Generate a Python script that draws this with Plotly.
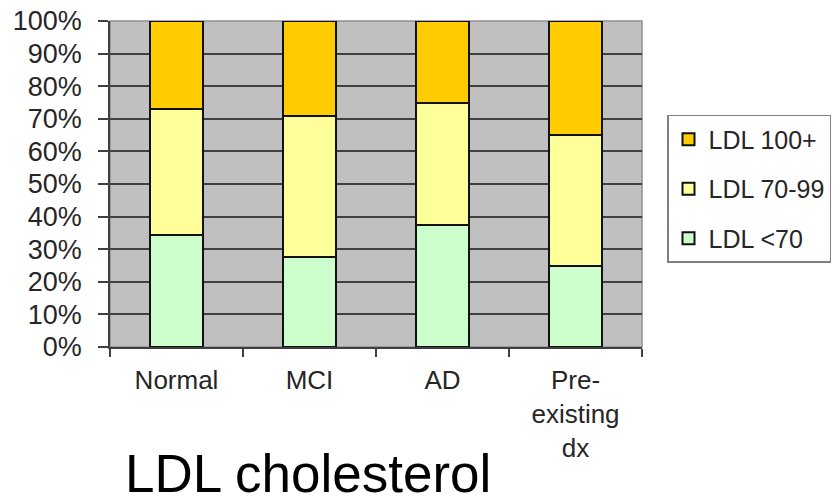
import plotly.graph_objects as go

# Share of patients in each LDL band, by diagnostic group (percent)
categories = ["Normal", "MCI", "AD", "Pre-<br>existing<br>dx"]
ldl_lt70 = [34.5, 27.5, 37.5, 25.0]
ldl_70_99 = [38.5, 43.5, 37.5, 40.0]
ldl_100p = [27.0, 29.0, 25.0, 35.0]
y_ticks = [0, 10, 20, 30, 40, 50, 60, 70, 80, 90, 100]
y_tick_labels = [f"{v}%" for v in y_ticks]

# (name, values, fill, legend rank)
series = [
    ("LDL <70", ldl_lt70, "#CCFFCC", 3),
    ("LDL 70-99", ldl_70_99, "#FFFF99", 2),
    ("LDL 100+", ldl_100p, "#FFCC00", 1),
]

xpos = list(range(len(categories)))

fig = go.Figure()
for name, vals, color, rank in series:
    fig.add_trace(go.Bar(
        x=xpos, y=vals, name=name, legendgroup=name, legendrank=rank,
        width=0.4,
        marker=dict(color=color, line=dict(color="#111111", width=2)),
    ))

font_family = "Liberation Sans, Arial, sans-serif"

fig.update_layout(
    barmode="stack",
    width=833, height=502,
    margin=dict(l=110, r=191, t=21, b=155, autoexpand=False),
    paper_bgcolor="white",
    plot_bgcolor="#C0C0C0",
    font=dict(family=font_family, color="#262626"),
    showlegend=True,
    legend=dict(
        x=1.047, y=0.712, xanchor="left", yanchor="top",
        xref="paper", yref="paper",
        font=dict(size=25, family=font_family, color="#262626"),
        bordercolor="#808080", borderwidth=1.5, bgcolor="white",
        traceorder="grouped", tracegroupgap=14,
    ),
    xaxis=dict(
        range=[-0.5, 3.5], automargin=False,
        tickmode="array", tickvals=xpos, ticktext=categories,
        ticks="", showgrid=False, zeroline=False,
        tickfont=dict(size=26, family=font_family, color="#262626"),
        showline=True, linecolor="#404040", linewidth=1.5,
        ticklabelstandoff=9,
        minor=dict(
            tickmode="array", tickvals=[-0.5, 0.5, 1.5, 2.5, 3.5],
            ticks="outside", ticklen=8, tickwidth=1.5, tickcolor="#404040",
            showgrid=False,
        ),
    ),
    yaxis=dict(
        range=[0, 100], automargin=False,
        tickmode="array", tickvals=y_ticks, ticktext=y_tick_labels,
        ticks="outside", ticklen=10, tickwidth=1.5, tickcolor="#404040",
        showgrid=True, gridcolor="#404040", gridwidth=1.5,
        zeroline=False,
        showline=True, linecolor="#404040", linewidth=1.5,
        tickfont=dict(size=27, family=font_family, color="#262626"),
        ticklabelstandoff=11,
    ),
)

# Light plot-area frame on the top and right
fig.add_shape(type="rect", xref="paper", yref="paper", x0=0, y0=0, x1=1, y1=1,
              line=dict(color="#909090", width=1.5), layer="below")

fig.add_annotation(
    text="LDL cholesterol", xref="paper", yref="paper",
    x=0.0245, y=-0.475, xanchor="left", yanchor="bottom",
    height=54, valign="bottom", yshift=-3,
    showarrow=False,
    font=dict(size=53, family=font_family, color="black"),
)

fig.write_html("out.html")
